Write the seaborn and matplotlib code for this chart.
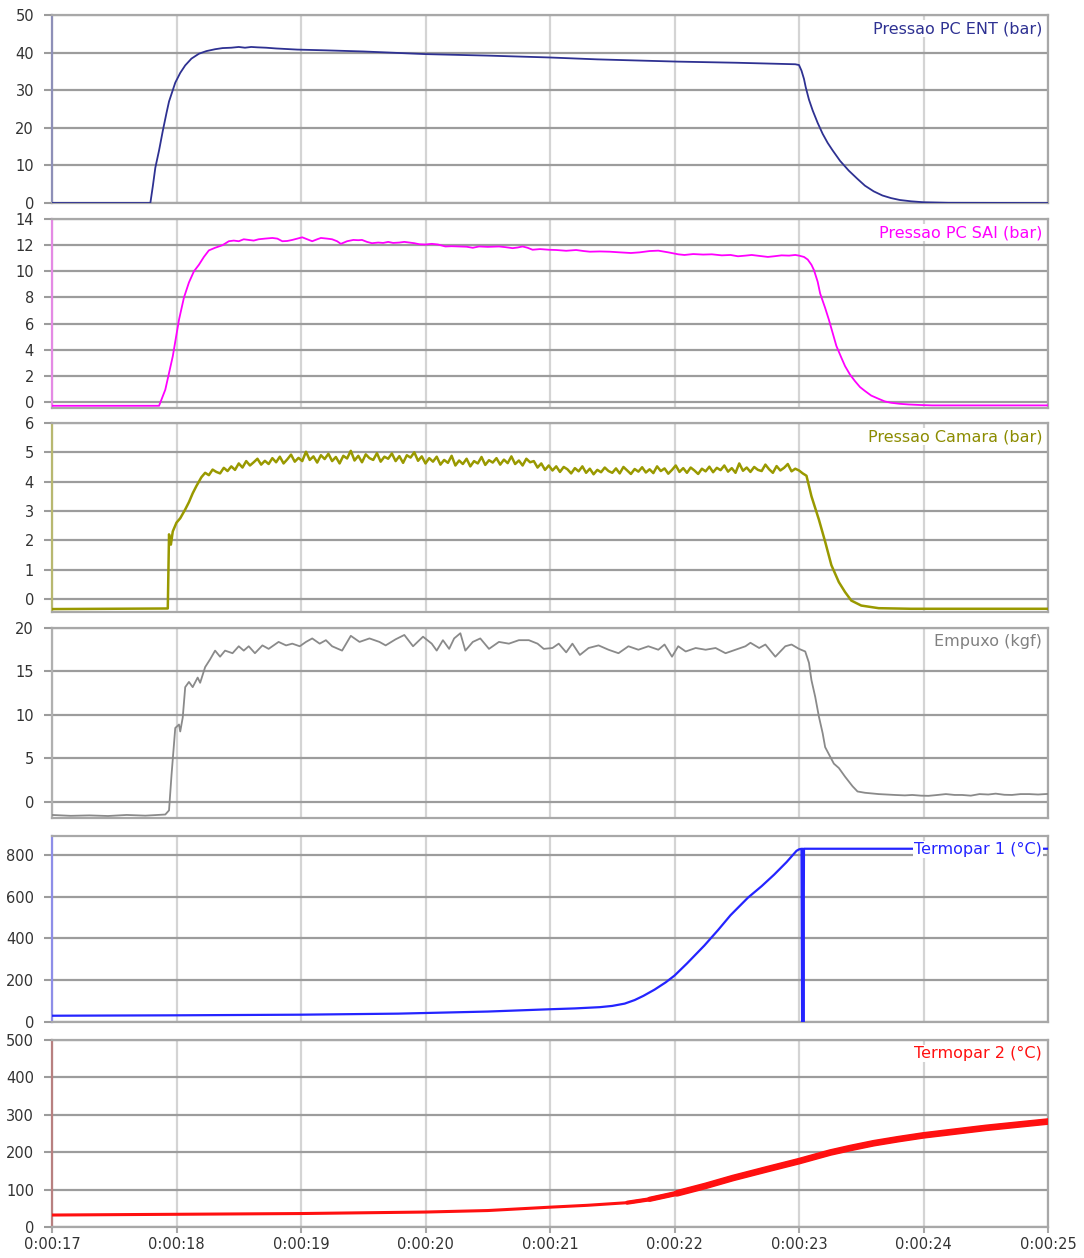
import numpy as np
import pandas as pd
import matplotlib
matplotlib.use("Agg")
import matplotlib.pyplot as plt
import seaborn as sns

# ---------------- data ----------------
x_ticks = [17, 18, 19, 20, 21, 22, 23, 24, 25]
x_tick_labels = ["0:00:17", "0:00:18", "0:00:19", "0:00:20", "0:00:21",
                 "0:00:22", "0:00:23", "0:00:24", "0:00:25"]

labels = ["Pressao PC ENT (bar)", "Pressao PC SAI (bar)", "Pressao Camara (bar)",
          "Empuxo (kgf)", "Termopar 1 (°C)", "Termopar 2 (°C)"]

pc_ent_t = [17.0, 17.79, 17.81, 17.83, 17.86, 17.89, 17.92, 17.94, 17.97, 17.99, 18.03,
            18.07, 18.12, 18.18, 18.24, 18.31, 18.37, 18.44, 18.50, 18.55, 18.60, 18.65,
            18.72, 18.80, 18.97, 19.2, 19.5, 20.0, 20.5, 21.0, 21.38, 21.7, 22.03, 22.5,
            22.97, 23.0, 23.02, 23.04, 23.054, 23.08, 23.11, 23.15, 23.19, 23.23, 23.27,
            23.33, 23.40, 23.47, 23.53, 23.60, 23.67, 23.74, 23.81, 23.9, 24.0, 24.2, 25.0]
pc_ent_v = [0, 0, 4.5, 9.4, 14, 19.2, 24, 27, 30, 32, 34.6,
            36.6, 38.4, 39.7, 40.4, 40.9, 41.2, 41.3, 41.5, 41.3, 41.5, 41.4,
            41.3, 41.1, 40.8, 40.6, 40.3, 39.6, 39.2, 38.7, 38.2, 37.9, 37.6, 37.3,
            36.9, 36.7, 35.2, 33.0, 30.8, 27.5, 24.6, 21.3, 18.4, 16.0, 14.0,
            11.2, 8.6, 6.4, 4.6, 3.1, 2.0, 1.3, 0.8, 0.45, 0.2, 0.05, 0.0]

pc_sai_t = [17.0, 17.86, 17.91, 17.97, 18.02, 18.06, 18.10, 18.14, 18.18, 18.22, 18.26,
            18.31, 18.37, 18.42, 18.46, 18.50, 18.54, 18.58, 18.62, 18.66, 18.71, 18.77,
            18.81, 18.85, 18.89, 18.93, 18.97, 19.01, 19.05, 19.09, 19.13, 19.16, 19.21,
            19.25, 19.29, 19.32, 19.37, 19.42, 19.46, 19.49, 19.53, 19.57, 19.62, 19.66,
            19.70, 19.74, 19.79, 19.83, 19.87, 19.91, 19.95, 20.0, 20.05, 20.10, 20.16,
            20.21, 20.27, 20.33, 20.38, 20.43, 20.50, 20.59, 20.64, 20.70, 20.74, 20.78,
            20.82, 20.86, 20.92, 20.99, 21.05, 21.13, 21.17, 21.21, 21.27, 21.32, 21.40,
            21.48, 21.56, 21.65, 21.72, 21.80, 21.87, 21.95, 22.03, 22.08, 22.15, 22.23,
            22.30, 22.38, 22.45, 22.51, 22.57, 22.62, 22.68, 22.75, 22.80, 22.86, 22.92,
            22.97, 23.00, 23.04, 23.07, 23.10, 23.12, 23.15, 23.17, 23.21, 23.24, 23.27,
            23.30, 23.34, 23.37, 23.41, 23.45, 23.49, 23.53, 23.58, 23.64, 23.69, 23.74,
            23.81, 23.88, 23.97, 24.07, 25.0]
pc_sai_v = [-0.28, -0.28, 0.95, 3.5, 6.3, 8.0, 9.15, 10.0, 10.5, 11.1, 11.6,
            11.8, 12.0, 12.3, 12.35, 12.3, 12.45, 12.4, 12.35, 12.45, 12.5, 12.55,
            12.5, 12.3, 12.32, 12.4, 12.5, 12.6, 12.45, 12.3, 12.45, 12.55, 12.5,
            12.45, 12.3, 12.1, 12.3, 12.4, 12.38, 12.4, 12.25, 12.15, 12.2, 12.17,
            12.25, 12.17, 12.2, 12.25, 12.2, 12.15, 12.07, 12.05, 12.1, 12.05, 11.9,
            11.92, 11.9, 11.88, 11.8, 11.9, 11.87, 11.9, 11.85, 11.77, 11.82, 11.9,
            11.8, 11.65, 11.7, 11.65, 11.63, 11.57, 11.6, 11.63, 11.55, 11.5, 11.52,
            11.5, 11.45, 11.4, 11.45, 11.55, 11.58, 11.45, 11.3, 11.25, 11.32, 11.28,
            11.3, 11.22, 11.25, 11.15, 11.2, 11.25, 11.18, 11.1, 11.15, 11.22, 11.2,
            11.25, 11.2, 11.1, 10.9, 10.5, 10.1, 9.2, 8.3, 7.2, 6.3, 5.3,
            4.3, 3.4, 2.75, 2.1, 1.6, 1.15, 0.85, 0.5, 0.25, 0.05, -0.05,
            -0.13, -0.18, -0.22, -0.25, -0.25]

camara_rise_t = [17.0, 17.5, 17.93, 17.94, 17.955, 17.97, 18.0, 18.03, 18.07, 18.10,
                 18.13, 18.16, 18.18]
camara_rise_v = [-0.35, -0.34, -0.33, 2.2, 1.85, 2.3, 2.6, 2.75, 3.05, 3.3,
                 3.6, 3.85, 4.0]
camara_plateau_start = 18.20
camara_plateau_end = 23.03
camara_plateau_v = [
    4.15, 4.30, 4.22, 4.41, 4.33, 4.28, 4.47, 4.36, 4.52, 4.40,
    4.62, 4.48, 4.70, 4.55, 4.66, 4.78, 4.58, 4.71, 4.60, 4.80,
    4.66, 4.85, 4.62, 4.76, 4.92, 4.68, 4.81, 4.70, 5.02, 4.74,
    4.86, 4.65, 4.90, 4.77, 4.95, 4.70, 4.84, 4.62, 4.88, 4.79,
    5.05, 4.72, 4.88, 4.66, 4.93, 4.80, 4.74, 4.97, 4.68, 4.85,
    4.78, 4.96, 4.70, 4.87, 4.64, 4.90, 4.82, 5.00, 4.71, 4.86,
    4.62, 4.80, 4.68, 4.85, 4.58, 4.74, 4.64, 4.88, 4.55, 4.72,
    4.60, 4.78, 4.52, 4.70, 4.62, 4.84, 4.57, 4.73, 4.65, 4.80,
    4.58, 4.75, 4.63, 4.86, 4.60, 4.72, 4.55, 4.78, 4.66, 4.70,
    4.48, 4.62, 4.40, 4.55, 4.38, 4.52, 4.33, 4.50, 4.42, 4.28,
    4.46, 4.35, 4.52, 4.30, 4.44, 4.25, 4.40, 4.32, 4.48, 4.36,
    4.30, 4.45, 4.28, 4.50, 4.38, 4.26, 4.43, 4.34, 4.49, 4.31,
    4.42, 4.29, 4.52, 4.36, 4.45, 4.27, 4.40, 4.55, 4.33, 4.46,
    4.30, 4.48, 4.38, 4.26, 4.44, 4.35, 4.51, 4.32, 4.47, 4.39,
    4.55, 4.34, 4.46, 4.30, 4.62, 4.37, 4.48, 4.33, 4.50, 4.40,
    4.36, 4.58, 4.42, 4.30, 4.53, 4.38, 4.47, 4.60, 4.35, 4.44,
    4.38, 4.28]
camara_drop_t = [23.06, 23.10, 23.16, 23.21, 23.26, 23.32, 23.37, 23.42, 23.50, 23.64,
                 23.9, 25.0]
camara_drop_v = [4.2, 3.5, 2.7, 1.95, 1.15, 0.57, 0.23, -0.06, -0.23, -0.32,
                 -0.34, -0.34]

empuxo_t = [17.0, 17.15, 17.3, 17.45, 17.6, 17.75, 17.91, 17.94, 17.96, 17.99, 18.02,
            18.03, 18.05, 18.07, 18.10, 18.13, 18.17, 18.19, 18.23, 18.27, 18.31, 18.35,
            18.39, 18.45, 18.50, 18.54, 18.58, 18.63, 18.69, 18.74, 18.82, 18.88, 18.93,
            18.99, 19.04, 19.09, 19.15, 19.20, 19.25, 19.33, 19.40, 19.47, 19.55, 19.63,
            19.68, 19.76, 19.83, 19.90, 19.98, 20.05, 20.09, 20.14, 20.19, 20.23, 20.28,
            20.32, 20.38, 20.44, 20.51, 20.59, 20.67, 20.75, 20.83, 20.90, 20.95, 21.02,
            21.07, 21.13, 21.18, 21.24, 21.31, 21.39, 21.47, 21.55, 21.63, 21.71, 21.79,
            21.87, 21.92, 21.98, 22.03, 22.09, 22.17, 22.25, 22.33, 22.41, 22.49, 22.57,
            22.61, 22.68, 22.73, 22.81, 22.89, 22.94, 23.0, 23.05, 23.08, 23.10, 23.13,
            23.16, 23.19, 23.21, 23.25, 23.28, 23.32, 23.37, 23.43, 23.47, 23.53, 23.60,
            23.64, 23.70, 23.77, 23.85, 23.91, 23.98, 24.04, 24.10, 24.18, 24.25, 24.31,
            24.38, 24.45, 24.52, 24.58, 24.65, 24.71, 24.78, 24.85, 24.92, 25.0]
empuxo_v = [-1.5, -1.6, -1.55, -1.62, -1.5, -1.58, -1.45, -0.97, 3.1, 8.5, 8.9,
            8.1, 9.7, 13.2, 13.8, 13.2, 14.3, 13.7, 15.5, 16.4, 17.4, 16.7,
            17.4, 17.1, 17.9, 17.4, 17.9, 17.1, 18.0, 17.6, 18.4, 18.0, 18.2,
            17.9, 18.4, 18.8, 18.2, 18.6, 17.9, 17.4, 19.1, 18.4, 18.8, 18.4,
            18.0, 18.7, 19.2, 17.9, 19.0, 18.2, 17.4, 18.6, 17.6, 18.8, 19.4,
            17.4, 18.4, 18.8, 17.6, 18.4, 18.2, 18.6, 18.6, 18.2, 17.6, 17.7,
            18.2, 17.2, 18.2, 16.9, 17.7, 18.0, 17.5, 17.1, 17.9, 17.5, 17.9,
            17.5, 18.1, 16.7, 17.9, 17.3, 17.7, 17.5, 17.7, 17.1, 17.5, 17.9,
            18.3, 17.7, 18.1, 16.7, 17.9, 18.1, 17.6, 17.3, 16.0, 14.0, 12.1,
            9.8, 7.9, 6.3, 5.2, 4.4, 3.9, 2.9, 1.8, 1.2, 1.05, 0.95,
            0.9, 0.85, 0.8, 0.75, 0.8, 0.72, 0.7, 0.78, 0.9, 0.8, 0.8,
            0.72, 0.9, 0.85, 0.95, 0.82, 0.8, 0.9, 0.9, 0.85, 0.92]

termo1_t = [17.0, 18.0, 19.0, 19.78, 20.5, 21.0, 21.2, 21.4, 21.5, 21.6, 21.68,
            21.75, 21.84, 21.93, 22.0, 22.1, 22.24, 22.35, 22.45, 22.59, 22.7, 22.8,
            22.9, 22.98, 23.0, 23.02, 23.025, 23.03, 23.035, 23.04, 25.0]
termo1_v = [30, 32, 35, 40, 50, 61, 65, 71, 77, 88, 105,
            125, 155, 190, 222, 280, 366, 440, 511, 595, 650, 705,
            765, 819, 826, 829, 0, 829, 0, 829, 829]

termo2_t = [17.0, 18.0, 19.0, 20.0, 20.5, 21.0, 21.3, 21.62, 21.8, 22.02, 22.25,
            22.47, 22.75, 23.0, 23.25, 23.41, 23.6, 23.8, 24.0, 24.5, 25.0]
termo2_v = [32, 34, 36, 40, 44, 53, 58, 65, 74, 90, 110,
            131, 155, 176, 199, 211, 224, 235, 245, 265, 282]

# ---------------- assemble series ----------------
camara_plateau_t = np.linspace(camara_plateau_start, camara_plateau_end, len(camara_plateau_v))
camara_t = list(camara_rise_t) + list(camara_plateau_t) + list(camara_drop_t)
camara_v = list(camara_rise_v) + list(camara_plateau_v) + list(camara_drop_v)

series = [
    (pc_ent_t, pc_ent_v), (pc_sai_t, pc_sai_v), (camara_t, camara_v),
    (empuxo_t, empuxo_v), (termo1_t, termo1_v), (termo2_t, termo2_v),
]
colors = ["#2E3192", "#FF00FF", "#999900", "#8A8A8A", "#2424FF", "#FF1010"]
label_colors = ["#2E3192", "#FF00FF", "#8C8C00", "#808080", "#2424FF", "#FF1010"]
spine_colors = ["#8E90B8", "#E48AE4", "#B8B870", "#B0B0B0", "#8E8EE8", "#B88080"]
line_widths = [1.3, 1.3, 1.8, 1.3, 1.6, 2.2]
ylims = [(0, 50), (-0.45, 14), (-0.45, 6), (-1.85, 20), (0, 890), (0, 500)]
yticks = [list(range(0, 51, 10)), list(range(0, 15, 2)), list(range(0, 7)),
          list(range(0, 21, 5)), list(range(0, 801, 200)), list(range(0, 501, 100))]
geom = [(15, 203), (219, 408), (423, 612), (628, 818), (836, 1022), (1040, 1227)]
# progressively thicker trace for Termopar 2 (start time, line width)
termo2_layers = [(21.55, 3.0), (21.8, 3.8), (22.0, 4.8)]

# ---------------- drawing ----------------
sns.set_style("white")
plt.rcParams["font.family"] = ["DejaVu Sans"]

W, H = 1084, 1258
fig = plt.figure(figsize=(W / 100, H / 100), dpi=100)
fig.patch.set_facecolor("white")

for i, ((t, v), (top, bot)) in enumerate(zip(series, geom)):
    ax = fig.add_axes([52 / W, 1 - bot / H, 996 / W, (bot - top) / H])
    df = pd.DataFrame({"t": t, "v": v})
    sns.lineplot(data=df, x="t", y="v", ax=ax, color=colors[i], lw=line_widths[i],
                 estimator=None, sort=False, zorder=3)
    if i == 5:
        for t0, lw in termo2_layers:
            sub = df[df["t"] >= t0]
            sns.lineplot(data=sub, x="t", y="v", ax=ax, color=colors[i], lw=lw,
                         estimator=None, sort=False, zorder=3)
    ax.set_xlim(17, 25)
    ax.set_ylim(*ylims[i])
    ax.set_xticks(x_ticks)
    ax.set_yticks(yticks[i])
    ax.set_xlabel("")
    ax.set_ylabel("")
    ax.set_axisbelow(True)
    ax.grid(axis="x", color="#d4d4d4", lw=1.6)
    ax.grid(axis="y", color="#9c9c9c", lw=1.6)
    for name, sp in ax.spines.items():
        sp.set_visible(True)
        sp.set_color("#a8a8a8")
        sp.set_linewidth(1.6)
    ax.spines["left"].set_color(spine_colors[i])
    ax.tick_params(axis="y", left=True, length=6, width=1.5, color="#9c9c9c",
                   pad=7, labelsize=10.5, labelcolor="#333333")
    if i == 5:
        ax.set_xticklabels(x_tick_labels)
        ax.tick_params(axis="x", bottom=True, length=4, width=1.5, color="#a8a8a8",
                       pad=3, labelsize=10.5, labelcolor="#333333")
    else:
        ax.tick_params(axis="x", bottom=False, labelbottom=False)
    ax.annotate(labels[i], xy=(1, 1), xycoords="axes fraction",
                xytext=(-6, -13.5), textcoords="offset pixels",
                ha="right", va="center", fontsize=11.5, color=label_colors[i],
                bbox=dict(boxstyle="square,pad=0.08", fc="white", ec="none"),
                zorder=5)

fig.savefig("out.png", dpi=100, facecolor="white")
